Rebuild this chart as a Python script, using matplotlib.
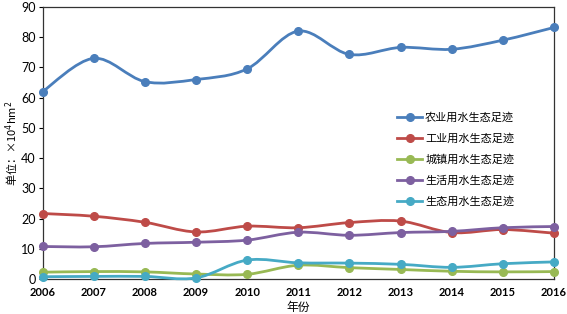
import matplotlib
matplotlib.use("Agg")
import matplotlib.pyplot as plt
import numpy as np
from matplotlib.path import Path
from matplotlib.patches import PathPatch
from matplotlib.lines import Line2D

years = [2006, 2007, 2008, 2009, 2010, 2011, 2012, 2013, 2014, 2015, 2016]
agri = [62.0, 73.0, 65.3, 66.0, 69.5, 82.0, 74.3, 76.6, 76.0, 79.0, 83.2]
industry = [21.7, 20.8, 18.8, 15.6, 17.5, 17.0, 18.7, 19.2, 15.4, 16.4, 15.2]
urban = [2.3, 2.5, 2.4, 1.7, 1.6, 4.6, 3.8, 3.2, 2.6, 2.4, 2.5]
domestic = [10.8, 10.7, 11.8, 12.2, 12.9, 15.5, 14.5, 15.4, 15.8, 17.0, 17.4]
eco = [0.8, 0.9, 0.9, 0.4, 6.3, 5.4, 5.3, 4.9, 3.9, 5.1, 5.7]

labels = ["农业用水生态足迹", "工业用水生态足迹", "城镇用水生态足迹", "生活用水生态足迹", "生态用水生态足迹"]
colors = ["#4A7EBB", "#BE4B48", "#98B954", "#7D60A0", "#46AAC5"]
series = [agri, industry, urban, domestic, eco]

cjk = ["Noto Sans CJK SC", "DejaVu Sans"]

fig = plt.figure(figsize=(5.67, 3.14), dpi=100)
ax = fig.add_axes([0.075, 0.111, 0.902, 0.867])


def smooth_path(x, y, t=1/6):
    x = np.asarray(x, float); y = np.asarray(y, float)
    n = len(x)
    verts = [(x[0], y[0])]
    codes = [Path.MOVETO]
    for i in range(n - 1):
        p0 = i - 1 if i > 0 else i
        p3 = i + 2 if i + 2 < n else i + 1
        c1 = (x[i] + (x[i + 1] - x[p0]) * t, y[i] + (y[i + 1] - y[p0]) * t)
        c2 = (x[i + 1] - (x[p3] - x[i]) * t, y[i + 1] - (y[p3] - y[i]) * t)
        verts += [c1, c2, (x[i + 1], y[i + 1])]
        codes += [Path.CURVE4] * 3
    return Path(verts, codes)


handles = []
for vals, c, lab in zip(series, colors, labels):
    patch = PathPatch(smooth_path(years, vals), facecolor="none", edgecolor=c, lw=2.0, zorder=3, clip_on=False)
    ax.add_patch(patch)
    ax.plot(years, vals, "o", color=c, ms=5.5, zorder=4, clip_on=False)
    handles.append(Line2D([0], [0], color=c, lw=2.0, marker="o", ms=5.5))

ax.set_xlim(2006, 2016)
ax.set_ylim(0, 90)
ax.set_xticks(years)
ax.set_yticks(range(0, 91, 10))
for lbl in ax.get_xticklabels():
    lbl.set_fontfamily("Lato"); lbl.set_fontweight("bold"); lbl.set_fontsize(8)
for lbl in ax.get_yticklabels():
    lbl.set_fontfamily("Lato"); lbl.set_fontsize(9)
ax.tick_params(axis="y", direction="out", length=3, width=0.8, pad=2)
ax.tick_params(axis="x", direction="out", length=0, pad=6)
for s in ax.spines.values():
    s.set_linewidth(0.9)
    s.set_color("#333333")

ax.set_xlabel("年份", fontfamily=cjk, fontsize=8.5, labelpad=2)
ax.set_ylabel("单位：×10$^4$hm$^2$", fontfamily=cjk, fontsize=8)
ax.yaxis.set_label_coords(-0.043, 0.5)

leg = ax.legend(handles, labels, loc="upper left", bbox_to_anchor=(0.685, 0.63), frameon=False,
                prop={"family": cjk, "size": 8}, handlelength=2.2, handletextpad=0.3, labelspacing=0.95,
                borderaxespad=0)

fig.savefig("out.png", dpi=100)
